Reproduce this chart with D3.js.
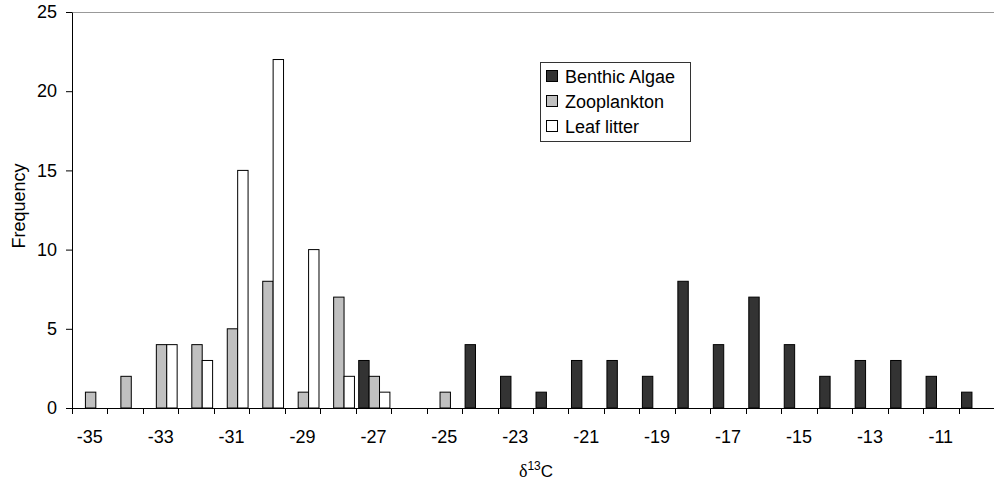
<!DOCTYPE html>
<html>
<head>
<meta charset="utf-8">
<script src="https://cdn.jsdelivr.net/npm/d3@7"></script>
<style>
  body { margin: 0; background: #fff; }
  svg { display: block; font-family: "Liberation Sans", Arial, Helvetica, sans-serif; }
</style>
</head>
<body>
<svg width="994" height="487"></svg>
<script>
// categories: delta 13C bins, -35 .. -10
var bins = d3.range(-35, -9);
var series = ["Benthic Algae", "Zooplankton", "Leaf litter"];
var colors = ["#333333", "#c0c0c0", "#ffffff"];

// frequency per bin, in the order of bins
var benthic =     [0,0,0,0,0,0,0,0,3,0,0,4,2,1,3,3,2,8,4,7,4,2,3,3,2,1];
var zooplankton = [1,2,4,4,5,8,1,7,2,0,1,0,0,0,0,0,0,0,0,0,0,0,0,0,0,0];
var leafLitter =  [0,0,4,3,15,22,10,2,1,0,0,0,0,0,0,0,0,0,0,0,0,0,0,0,0,0];
var values = [benthic, zooplankton, leafLitter];

var yTicks = [0, 5, 10, 15, 20, 25];
var xLabels = [-35, -33, -31, -29, -27, -25, -23, -21, -19, -17, -15, -13, -11];

var svg = d3.select("svg");
var pLeft = 72, pRight = 994, pTop = 12, pBottom = 408;

var x0 = d3.scaleBand().domain(bins).range([pLeft, pRight]).padding(0);
var w = x0.bandwidth();
var x1 = d3.scaleBand().domain(series).range([w * 0.085, w * 0.965]).padding(0);
var y = d3.scaleLinear().domain([0, 25]).range([pBottom, pTop]);

// top border line
svg.append("line")
  .attr("x1", pLeft).attr("x2", pRight)
  .attr("y1", y(25) + 0.5).attr("y2", y(25) + 0.5)
  .style("stroke", "#999999");

// bars
var groups = svg.append("g").selectAll("g")
  .data(bins)
  .enter().append("g")
  .attr("transform", function (d) { return "translate(" + x0(d) + ",0)"; });

groups.selectAll("rect")
  .data(function (d, i) {
    return series.map(function (s, k) { return { s: s, k: k, v: values[k][i] }; })
      .filter(function (e) { return e.v > 0; });
  })
  .enter().append("rect")
  .attr("x", function (d) { return x1(d.s); })
  .attr("width", x1.bandwidth())
  .attr("y", function (d) { return y(d.v); })
  .attr("height", function (d) { return y(0) - y(d.v); })
  .style("fill", function (d) { return colors[d.k]; })
  .style("stroke", "#000")
  .style("stroke-width", 1);

// y axis
var yAxis = svg.append("g")
  .attr("transform", "translate(" + pLeft + ",0)")
  .call(d3.axisLeft(y).tickValues(yTicks).tickSize(6).tickSizeOuter(0).tickPadding(9));
yAxis.selectAll("text").style("font-size", "18px").style("fill", "#000")
  .style("font-family", "'Liberation Sans', Arial, sans-serif");
yAxis.selectAll("line, path").style("stroke", "#000");

// x axis: ticks at bin boundaries, labels every other bin
var xAxisG = svg.append("g").attr("transform", "translate(0," + pBottom + ")");
xAxisG.append("line")
  .attr("x1", pLeft).attr("x2", pRight)
  .attr("y1", 0.5).attr("y2", 0.5)
  .style("stroke", "#000");
xAxisG.selectAll(".tk")
  .data(bins)
  .enter().append("line")
  .attr("x1", function (d) { return Math.round(x0(d)) + 0.5; })
  .attr("x2", function (d) { return Math.round(x0(d)) + 0.5; })
  .attr("y1", 0).attr("y2", 6)
  .style("stroke", "#000");
xAxisG.selectAll(".lbl")
  .data(xLabels)
  .enter().append("text")
  .attr("x", function (d) { return x0(d) + w / 2; })
  .attr("y", 35)
  .attr("text-anchor", "middle")
  .style("font-size", "18px")
  .text(function (d) { return d; });

// axis titles
svg.append("text")
  .attr("transform", "translate(25,206) rotate(-90)")
  .attr("text-anchor", "middle")
  .style("font-size", "18px")
  .text("Frequency");

var xt = svg.append("text")
  .attr("x", 536).attr("y", 477)
  .attr("text-anchor", "middle")
  .style("font-size", "17px");
xt.append("tspan").style("font-family", "'Liberation Serif', serif").style("font-size", "18px").text("δ");
xt.append("tspan").attr("dy", -7).style("font-size", "12px").text("13");
xt.append("tspan").attr("dy", 7).text("C");

// legend
var lg = svg.append("g").attr("transform", "translate(540,62)");
lg.append("rect")
  .attr("x", 0.5).attr("y", 0.5)
  .attr("width", 150).attr("height", 79)
  .style("fill", "#fff").style("stroke", "#333");
series.forEach(function (s, k) {
  lg.append("rect")
    .attr("x", 6.5).attr("y", 8.5 + k * 25)
    .attr("width", 11).attr("height", 11)
    .style("fill", colors[k]).style("stroke", "#000");
  lg.append("text")
    .attr("x", 25).attr("y", 20.5 + k * 25)
    .style("font-size", "18px")
    .text(s);
});
</script>
</body>
</html>
